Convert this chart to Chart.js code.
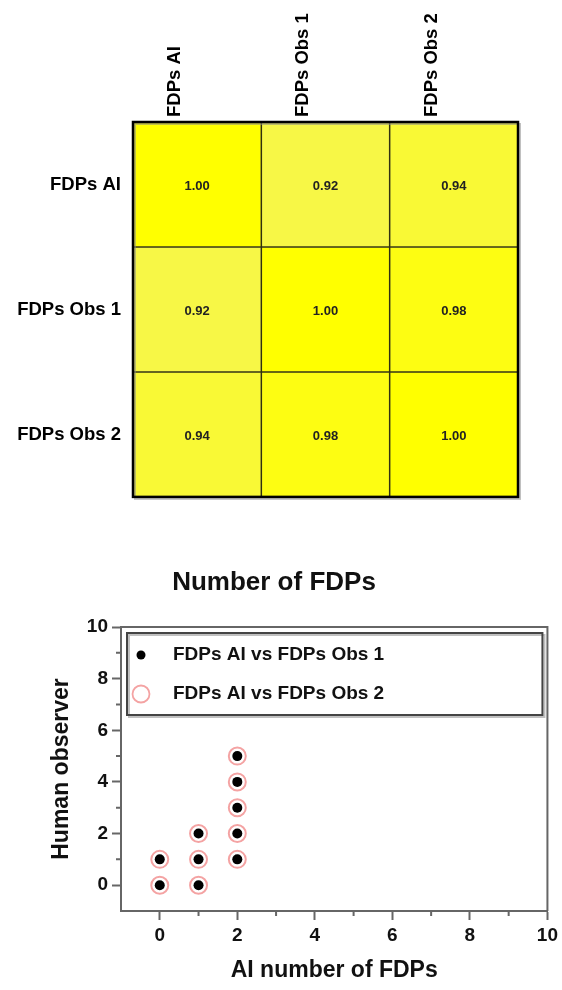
<!DOCTYPE html>
<html>
<head>
<meta charset="utf-8">
<script src="https://cdn.jsdelivr.net/npm/chart.js@4.4.1/dist/chart.umd.min.js"></script>
<style>
  html, body { margin: 0; padding: 0; background: #fff; }
  body { width: 562px; height: 990px; position: relative; overflow: hidden; }
  canvas { position: absolute; left: 0; }
  #heat { top: 0; }
  #scat { top: 540px; }
</style>
</head>
<body>
<canvas id="heat" width="562" height="520"></canvas>
<canvas id="scat" width="562" height="450"></canvas>
<script>
// ---------------- DATA ----------------
const heatColLabels = ['FDPs AI', 'FDPs Obs 1', 'FDPs Obs 2'];
const heatRowLabels = ['FDPs AI', 'FDPs Obs 1', 'FDPs Obs 2'];
const corrRowAI   = [1.00, 0.92, 0.94];
const corrRowObs1 = [0.92, 1.00, 0.98];
const corrRowObs2 = [0.94, 0.98, 1.00];
const corrRows = [corrRowAI, corrRowObs1, corrRowObs2];

const scatterTitle = 'Number of FDPs';
const seriesNames = ['FDPs AI vs FDPs Obs 1', 'FDPs AI vs FDPs Obs 2'];
const aiCounts   = [0, 0, 1, 1, 1, 2, 2, 2, 2, 2];
const obs1Counts = [0, 1, 0, 1, 2, 1, 2, 3, 4, 5];
const obs2Counts = [0, 1, 0, 1, 2, 1, 2, 3, 4, 5];
const majorTicks = [0, 2, 4, 6, 8, 10];
const minorTicks = [1, 3, 5, 7, 9];
const xTitle = 'AI number of FDPs';
const yTitle = 'Human observer';

// ---------------- STYLE ----------------
Chart.defaults.font.family = "'Liberation Sans', Arial, Helvetica, sans-serif";
Chart.defaults.color = '#111';

function corrColor(v) {
  const t = Math.max(0, Math.min(1, (v - 0.92) / 0.08));
  const lo = [247, 247, 70], hi = [255, 255, 0];
  const c = lo.map((a, i) => Math.round(a + (hi[i] - a) * t));
  return `rgb(${c[0]},${c[1]},${c[2]})`;
}

// ---------------- HEATMAP ----------------
const heatDatasets = heatRowLabels.map((rl, r) => ({
  label: rl,
  data: heatColLabels.map(() => [r, r + 1]),
  values: corrRows[r],
  backgroundColor: corrRows[r].map(corrColor),
  borderColor: 'rgba(35,35,0,0.9)',
  borderWidth: 1.1,
  borderSkipped: false,
  barPercentage: 1,
  categoryPercentage: 1,
  grouped: false
}));

const heatPlugin = {
  id: 'heatDeco',
  afterDatasetsDraw(chart) {
    const ctx = chart.ctx;
    const a = chart.chartArea;
    ctx.save();
    // cell values
    ctx.font = "bold 13px 'Liberation Sans', Arial, sans-serif";
    ctx.fillStyle = '#222';
    ctx.textAlign = 'center';
    ctx.textBaseline = 'middle';
    chart.data.datasets.forEach((ds, di) => {
      const meta = chart.getDatasetMeta(di);
      meta.data.forEach((el, i) => {
        const cy = (el.y + el.base) / 2 + 2;
        ctx.fillText(ds.values[i].toFixed(2), el.x, cy);
      });
    });
    // shadow + outer border
    ctx.strokeStyle = 'rgba(140,140,140,0.55)';
    ctx.lineWidth = 2;
    ctx.strokeRect(a.left + 2, a.top + 2, a.right - a.left, a.bottom - a.top);
    ctx.strokeStyle = '#000';
    ctx.lineWidth = 2.5;
    ctx.strokeRect(a.left, a.top, a.right - a.left, a.bottom - a.top);
    ctx.restore();
  }
};

new Chart(document.getElementById('heat'), {
  type: 'bar',
  data: { labels: heatColLabels, datasets: heatDatasets },
  plugins: [heatPlugin],
  options: {
    responsive: false,
    animation: false,
    layout: { padding: { left: 0, top: 0, right: 44, bottom: 14 } },
    plugins: { legend: { display: false }, tooltip: { enabled: false } },
    scales: {
      x: {
        type: 'category',
        position: 'top',
        grid: { display: false, drawTicks: false },
        border: { display: false },
        ticks: {
          autoSkip: false, minRotation: 90, maxRotation: 90, padding: 5,
          font: { size: 18.5, weight: 'bold' }, color: '#000'
        },
        afterFit(s) { s.height = 122; }
      },
      y: {
        type: 'linear',
        min: 0, max: 3, reverse: true,
        grid: { display: false, drawTicks: false },
        border: { display: false },
        afterBuildTicks(s) { s.ticks = heatRowLabels.map((_, i) => ({ value: i + 0.5 })); },
        ticks: {
          padding: 12,
          font: { size: 18.5, weight: 'bold' }, color: '#000',
          callback(v) { return heatRowLabels[Math.floor(v)]; }
        },
        afterFit(s) { s.width = 133; }
      }
    }
  }
});

// ---------------- SCATTER ----------------
const toPoints = (xs, ys) => xs.map((x, i) => ({ x: x, y: ys[i] }));

const scatPlugin = {
  id: 'scatDeco',
  afterDraw(chart) {
    const ctx = chart.ctx;
    const a = chart.chartArea;
    const xs = chart.scales.x, ys = chart.scales.y;
    ctx.save();
    // frame top & right
    ctx.strokeStyle = '#666';
    ctx.lineWidth = 2;
    ctx.beginPath();
    ctx.moveTo(a.left, a.top); ctx.lineTo(a.right, a.top); ctx.lineTo(a.right, a.bottom);
    ctx.stroke();
    // minor ticks
    ctx.beginPath();
    minorTicks.forEach(v => {
      const px = xs.getPixelForValue(v);
      ctx.moveTo(px, a.bottom); ctx.lineTo(px, a.bottom + 5);
      const py = ys.getPixelForValue(v);
      ctx.moveTo(a.left, py); ctx.lineTo(a.left - 5, py);
    });
    ctx.stroke();
    // legend box
    const lx = a.left + 6, ly = a.top + 6, lw = (a.right - 5) - lx, lh = 82;
    ctx.strokeStyle = 'rgba(150,150,150,0.6)';
    ctx.lineWidth = 2;
    ctx.strokeRect(lx + 2, ly + 2, lw, lh);
    ctx.strokeStyle = '#444';
    ctx.lineWidth = 2;
    ctx.strokeRect(lx, ly, lw, lh);
    // legend items
    const mx = a.left + 20;
    const y1 = ly + 22, y2 = ly + 61;
    ctx.fillStyle = '#000';
    ctx.beginPath(); ctx.arc(mx, y1, 4.5, 0, Math.PI * 2); ctx.fill();
    ctx.strokeStyle = '#f4a3a3';
    ctx.lineWidth = 1.8;
    ctx.beginPath(); ctx.arc(mx, y2, 8.5, 0, Math.PI * 2); ctx.stroke();
    ctx.fillStyle = '#111';
    ctx.font = "bold 19px 'Liberation Sans', Arial, sans-serif";
    ctx.textAlign = 'left';
    ctx.textBaseline = 'middle';
    ctx.fillText(seriesNames[0], a.left + 52, y1);
    ctx.fillText(seriesNames[1], a.left + 52, y2);
    ctx.restore();
  }
};

const axisCommon = {
  type: 'linear',
  min: -1, max: 10,
  grid: { drawOnChartArea: false, tickLength: 9, tickColor: '#666', tickWidth: 2 },
  border: { color: '#666', width: 2 },
  afterBuildTicks(s) { s.ticks = majorTicks.map(v => ({ value: v })); }
};

new Chart(document.getElementById('scat'), {
  type: 'scatter',
  data: {
    datasets: [
      {
        label: seriesNames[0],
        data: toPoints(aiCounts, obs1Counts),
        pointStyle: 'circle',
        pointRadius: 5,
        backgroundColor: '#000',
        borderColor: '#000',
        borderWidth: 0
      },
      {
        label: seriesNames[1],
        data: toPoints(aiCounts, obs2Counts),
        pointStyle: 'circle',
        pointRadius: 8.5,
        backgroundColor: 'rgba(0,0,0,0)',
        borderColor: '#f4a3a3',
        borderWidth: 2
      }
    ]
  },
  plugins: [scatPlugin],
  options: {
    responsive: false,
    animation: false,
    layout: { padding: { left: 0, top: 0, right: 14, bottom: 0 } },
    plugins: {
      legend: { display: false },
      tooltip: { enabled: false },
      title: {
        display: true,
        text: scatterTitle,
        color: '#111',
        font: { size: 26, weight: 'bold' },
        padding: { top: 27, bottom: 28.8 }
      }
    },
    scales: {
      x: Object.assign({}, axisCommon, {
        position: 'bottom',
        ticks: { padding: 4, font: { size: 19, weight: 'bold' }, color: '#111' },
        title: { display: true, text: xTitle, color: '#111', font: { size: 23, weight: 'bold' }, padding: { top: 0, bottom: 6 } },
        afterFit(s) { s.height = 79; }
      }),
      y: Object.assign({}, axisCommon, {
        position: 'left',
        ticks: { padding: 4, font: { size: 19, weight: 'bold' }, color: '#111' },
        title: { display: true, text: yTitle, color: '#111', font: { size: 23, weight: 'bold' }, padding: { top: 48, bottom: 0 } },
        afterFit(s) { s.width = 121; }
      })
    }
  }
});
</script>
</body>
</html>
